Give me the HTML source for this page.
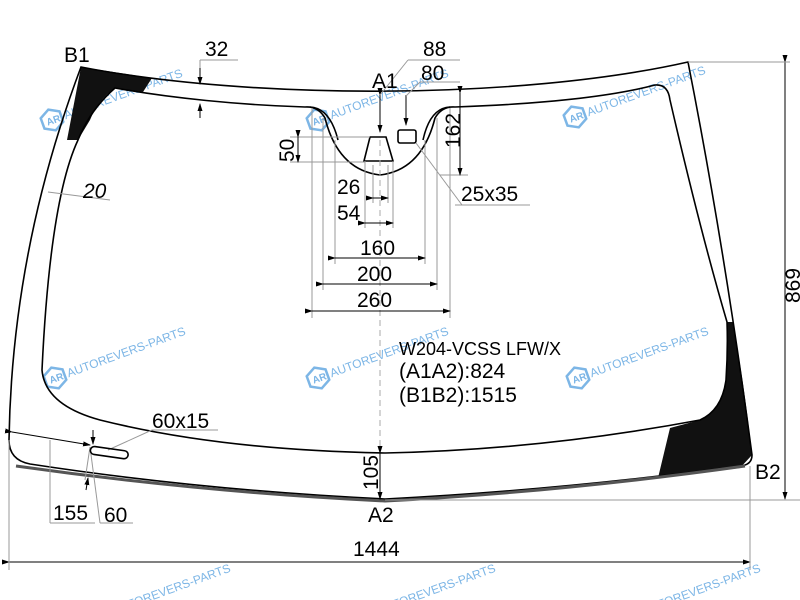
<!DOCTYPE html>
<html><head><style>
html,body{margin:0;padding:0;background:#fff;}
svg{display:block;font-family:"Liberation Sans",Arial,sans-serif;}
.d{stroke:#999;stroke-width:1;fill:none}
.k{stroke:#000;stroke-width:1.6;fill:none}
.t{font-size:21px;fill:#000}
.wm{font-size:12px;fill:#7db6e6}
</style></head><body>
<svg width="800" height="600" viewBox="0 0 800 600">
<defs>
<marker id="a" markerWidth="8" markerHeight="8" refX="7" refY="4" orient="auto"><path d="M0,1.5 L8,4 L0,6.5z" fill="#000"/></marker>
<g id="w"><g transform="rotate(-20)"><polygon points="0,-11 10,-5.5 10,5.5 0,11 -10,5.5 -10,-5.5" fill="none" stroke="#7db6e6" stroke-width="2.5"/><text x="-6" y="4" font-size="10" fill="#7db6e6" font-weight="bold">AR</text><text class="wm" x="13" y="4">AUTOREVERS-PARTS</text></g></g>
</defs>
<use href="#w" x="52" y="120"/>
<use href="#w" x="318" y="120"/>
<use href="#w" x="575" y="117"/>
<use href="#w" x="55" y="378"/>
<use href="#w" x="318" y="378"/>
<use href="#w" x="578" y="378"/>
<use href="#w" x="100" y="615"/>
<use href="#w" x="365" y="615"/>
<use href="#w" x="630" y="615"/>
<path d="M81,67 L152,78 L143,92 L115,88 Q98,100 90,120 L78,140 L67,140 Z" fill="#111"/>
<path d="M733,322 Q745,390 752,455 L740,468 L658,478 L670,428 L700,420 Q722,410 726,380 Q728,350 727,322 Z" fill="#111"/>
<path class="k" d="M81,67 C250,100 520,100 688,62 Q725,250 752,455 Q752,465 740,466 Q560,490 385,499 Q200,490 30,464 Q9,460 9,440 Q12,250 81,67 Z"/>
<path d="M16,466 Q200,492 385,501 Q560,492 745,466" stroke="#555" stroke-width="3" fill="none"/>
<path class="k" d="M115,88 C170,98 240,105 305,107 Q318,106 325,118 Q338,170 380,175 Q422,170 435,118 Q442,106 455,107 C540,104 610,97 655,85 Q668,84 670,100 Q700,230 727,322 Q728,350 726,380 Q722,410 700,420 Q540,450 385,453 Q220,450 100,420 Q45,405 42,370 Q50,200 78,140 Q90,110 115,88 Z"/>
<path class="k" d="M310,107 Q330,108 338,140" stroke-width="1"/>
<path class="k" d="M450,107 Q430,108 423,140" stroke-width="1"/>
<path class="k" d="M370,137 L386,137 L393,161 L364,161 Z" stroke-width="1.3"/>
<rect x="398" y="130" width="18" height="13" rx="2" class="k" stroke-width="1.3"/>
<line x1="380" y1="140" x2="380" y2="450" stroke="#aaa" stroke-dasharray="6,4"/>
<g class="d">
<line x1="312" y1="108" x2="312" y2="318"/><line x1="450" y1="108" x2="450" y2="318"/>
<line x1="323" y1="118" x2="323" y2="290"/><line x1="437" y1="118" x2="437" y2="290"/>
<line x1="335" y1="140" x2="335" y2="264"/><line x1="425" y1="140" x2="425" y2="264"/>
<line x1="365" y1="161" x2="365" y2="228"/><line x1="393" y1="161" x2="393" y2="228"/>
<line x1="373" y1="165" x2="373" y2="203"/><line x1="388" y1="165" x2="388" y2="203"/>
<line x1="290" y1="137" x2="370" y2="137"/><line x1="290" y1="162" x2="365" y2="162"/>
<line x1="440" y1="175" x2="468" y2="175"/>
</g>
<g stroke="#000" stroke-width="1">
<line x1="312" y1="311" x2="450" y2="311" marker-start="url(#a)" marker-end="url(#a)"/>
<line x1="323" y1="284" x2="437" y2="284" marker-start="url(#a)" marker-end="url(#a)"/>
<line x1="335" y1="258" x2="425" y2="258" marker-start="url(#a)" marker-end="url(#a)"/>
<line x1="365" y1="223" x2="393" y2="223" marker-start="url(#a)" marker-end="url(#a)"/>
<line x1="373" y1="198" x2="388" y2="198" marker-start="url(#a)" marker-end="url(#a)"/>
<line x1="298" y1="137" x2="298" y2="162" marker-start="url(#a)" marker-end="url(#a)"/>
<line x1="460" y1="93" x2="460" y2="175" marker-start="url(#a)" marker-end="url(#a)"/>
<line x1="380" y1="95" x2="380" y2="132" marker-start="url(#a)" marker-end="url(#a)"/>
<line x1="406" y1="95" x2="406" y2="125" marker-end="url(#a)"/>
<line x1="200" y1="68" x2="200" y2="84" marker-end="url(#a)"/>
<line x1="200" y1="118" x2="200" y2="104" marker-end="url(#a)"/>
<line x1="380" y1="453" x2="380" y2="499" marker-start="url(#a)" marker-end="url(#a)"/>
<line x1="785" y1="62" x2="785" y2="499" marker-start="url(#a)" marker-end="url(#a)"/>
<line x1="9" y1="562" x2="750" y2="562" marker-start="url(#a)" marker-end="url(#a)"/>
<line x1="12" y1="432" x2="90" y2="445" marker-start="url(#a)" marker-end="url(#a)"/>
<line x1="93" y1="430" x2="93" y2="444" marker-end="url(#a)"/>
</g>
<g class="d">
<line x1="408" y1="60" x2="460" y2="60"/><line x1="408" y1="60" x2="380" y2="95"/>
<line x1="420" y1="82" x2="460" y2="82"/><line x1="420" y1="82" x2="406" y2="96"/>
<line x1="416" y1="143" x2="462" y2="205"/><line x1="455" y1="205" x2="530" y2="205"/>
<line x1="200" y1="60" x2="238" y2="60"/><line x1="200" y1="60" x2="200" y2="68"/>
<line x1="48" y1="192" x2="110" y2="200"/>
<line x1="108" y1="450" x2="152" y2="430"/><line x1="152" y1="430" x2="218" y2="430"/>
<line x1="9" y1="440" x2="9" y2="570"/><line x1="750" y1="466" x2="750" y2="570"/>
<line x1="385" y1="500" x2="800" y2="500"/>
<line x1="688" y1="62" x2="790" y2="62"/>
<line x1="50" y1="440" x2="50" y2="523"/><line x1="50" y1="523" x2="95" y2="523"/>
<line x1="90" y1="447" x2="100" y2="523"/><line x1="100" y1="523" x2="133" y2="523"/>
<line x1="90" y1="447" x2="85" y2="480"/>
</g>
<path d="M86,490 L88,478" stroke="#000" marker-end="url(#a)"/>
<rect x="91" y="446" width="38" height="8" rx="4" transform="rotate(8 91 446)" class="k" stroke-width="1.3"/>
<g class="t">
<text x="64" y="62">B1</text>
<text x="205" y="56">32</text>
<text x="423" y="56">88</text>
<text x="421" y="80">80</text>
<text x="372" y="88">A1</text>
<text x="83" y="198" font-style="italic">20</text>
<text transform="translate(294,162) rotate(-90)">50</text>
<text transform="translate(460,148) rotate(-90)">162</text>
<text x="461" y="201">25x35</text>
<text x="337" y="194">26</text>
<text x="337" y="220">54</text>
<text x="360" y="255">160</text>
<text x="357" y="281">200</text>
<text x="357" y="307">260</text>
<text transform="translate(800,303) rotate(-90)">869</text>
<text x="399" y="355" font-size="18">W204-VCSS LFW/X</text>
<text x="399" y="378">(A1A2):824</text>
<text x="399" y="402">(B1B2):1515</text>
<text x="152" y="428">60x15</text>
<text transform="translate(378,490) rotate(-90)">105</text>
<text x="368" y="522">A2</text>
<text x="755" y="479">B2</text>
<text x="53" y="520">155</text>
<text x="104" y="522">60</text>
<text x="353" y="556">1444</text>
</g>
</svg>
</body></html>
